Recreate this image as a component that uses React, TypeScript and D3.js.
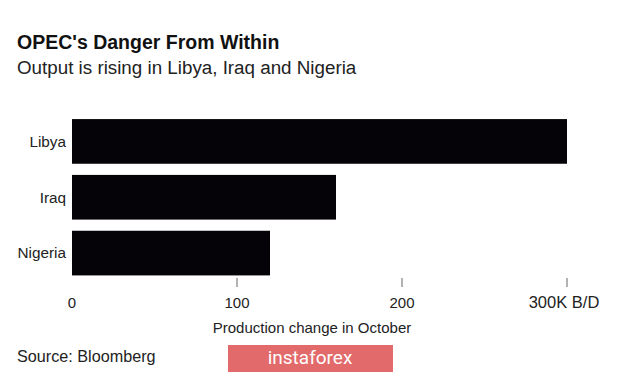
import * as d3 from "d3";
import { useRef, useEffect } from "react";

const categories = ["Libya", "Iraq", "Nigeria"];
const values = [300, 160, 120]; // thousand barrels/day
const tickValues = [0, 100, 200, 300];
const tickLabels = ["0", "100", "200", "300K B/D"];

const W = 620;
const H = 374;
const FONT = "'Liberation Sans', Arial, Helvetica, sans-serif";

const App = () => {
  const svgRef = useRef<SVGSVGElement | null>(null);

  useEffect(() => {
    const x = d3.scaleLinear().domain([0, 300]).range([72, 567]);
    const y = d3
      .scaleBand()
      .domain(categories)
      .range([113.5, 281])
      .paddingInner(0.2)
      .paddingOuter(0.1);

    const svgEl = d3.select(svgRef.current);
    svgEl.selectAll("*").remove();

    svgEl.append("rect").attr("width", W).attr("height", H).attr("fill", "#fff");

    // titles
    svgEl
      .append("text")
      .attr("x", 17)
      .attr("y", 48.5)
      .attr("font-family", FONT)
      .attr("font-weight", "bold")
      .attr("font-size", 19.5)
      .attr("fill", "#111")
      .text("OPEC's Danger From Within");
    svgEl
      .append("text")
      .attr("x", 17)
      .attr("y", 73.5)
      .attr("font-family", FONT)
      .attr("font-size", 18.8)
      .attr("fill", "#222")
      .text("Output is rising in Libya, Iraq and Nigeria");

    // bars
    svgEl
      .append("g")
      .selectAll("rect")
      .data(categories)
      .enter()
      .append("rect")
      .attr("x", x(0))
      .attr("y", (d) => y(d)!)
      .attr("width", (d, i) => x(values[i]) - x(0))
      .attr("height", y.bandwidth())
      .attr("fill", "#050308");

    // category labels
    svgEl
      .append("g")
      .selectAll("text")
      .data(categories)
      .enter()
      .append("text")
      .attr("x", 66)
      .attr("y", (d) => y(d)! + y.bandwidth() / 2)
      .attr("dy", "0.35em")
      .attr("text-anchor", "end")
      .attr("font-family", FONT)
      .attr("font-size", 15.3)
      .attr("fill", "#222")
      .text((d) => d);

    // x axis ticks (no line at 0)
    const xAxisGroup = svgEl.append("g");
    xAxisGroup
      .selectAll("line")
      .data(tickValues.filter((v) => v > 0))
      .enter()
      .append("line")
      .attr("x1", (d) => x(d))
      .attr("x2", (d) => x(d))
      .attr("y1", 278)
      .attr("y2", 287)
      .attr("stroke", "#666")
      .attr("stroke-width", 1);
    xAxisGroup
      .selectAll("text")
      .data(tickValues)
      .enter()
      .append("text")
      .attr("x", (d) => (d === 300 ? x(d) - 3 : x(d)))
      .attr("y", 308)
      .attr("text-anchor", "middle")
      .attr("font-family", FONT)
      .attr("font-size", (d) => (d === 300 ? 16.5 : 15))
      .attr("fill", "#222")
      .text((d, i) => tickLabels[i]);

    svgEl
      .append("text")
      .attr("x", 312)
      .attr("y", 332.5)
      .attr("text-anchor", "middle")
      .attr("font-family", FONT)
      .attr("font-size", 15)
      .attr("fill", "#222")
      .text("Production change in October");

    svgEl
      .append("text")
      .attr("x", 17)
      .attr("y", 362)
      .attr("font-family", FONT)
      .attr("font-size", 16.2)
      .attr("fill", "#222")
      .text("Source: Bloomberg");

    // watermark
    svgEl
      .append("rect")
      .attr("x", 228)
      .attr("y", 345)
      .attr("width", 165)
      .attr("height", 27)
      .attr("fill", "#e26a6a");
    svgEl
      .append("text")
      .attr("x", 310)
      .attr("y", 364)
      .attr("text-anchor", "middle")
      .attr("font-family", "'Liberation Sans Narrow', 'Roboto', Arial, sans-serif")
      .attr("font-size", 19)
      .attr("fill", "#fff")
      .text("instaforex");
  }, []);

  return (
    <svg
      ref={svgRef}
      width={W}
      height={H}
      style={{ position: "absolute", left: 0, top: 0 }}
    />
  );
};

export default App;
